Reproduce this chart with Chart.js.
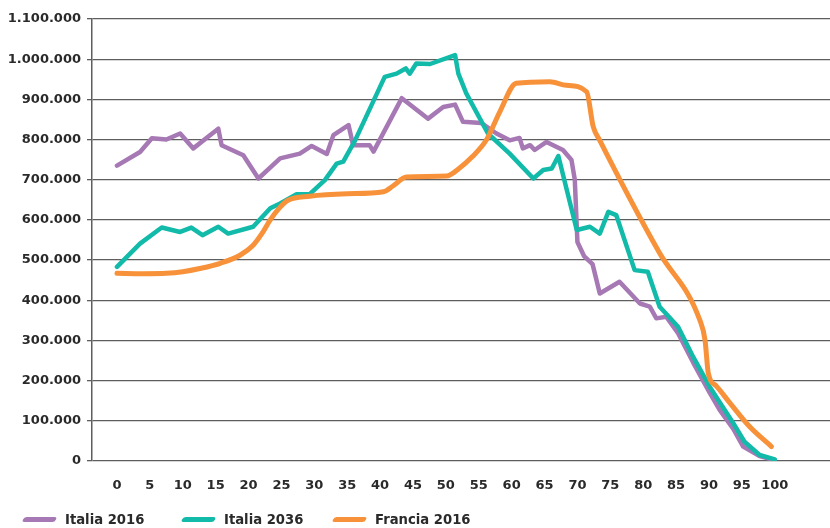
<!DOCTYPE html>
<html>
<head>
<meta charset="utf-8">
<script src="https://cdn.jsdelivr.net/npm/chart.js@4/dist/chart.umd.min.js"></script>
<style>
  html, body { margin: 0; padding: 0; background: #fff; }
  #wrap { position: relative; width: 830px; height: 528px; }
  #chart { position: absolute; left: 0; top: 0; }
  .item { position: absolute; top: 509px; height: 20px; display: flex; align-items: center;
          font: bold 13.2px "DejaVu Sans", sans-serif; color: #2a2a2a; }
  .swatch { width: 33px; height: 5px; border-radius: 3px; transform: skewX(-25deg); margin-right: 9px; }
</style>
</head>
<body>
<div id="wrap">
  <canvas id="chart" width="830" height="528"></canvas>
  <div class="item" style="left:23px"><span class="swatch" style="background:#a678b4"></span>Italia 2016</div>
  <div class="item" style="left:182px"><span class="swatch" style="background:#12baa9"></span>Italia 2036</div>
  <div class="item" style="left:333px"><span class="swatch" style="background:#f7923a"></span>Francia 2016</div>
</div>
<script>
// x tick labels (ages)
const ageTicks = [0, 5, 10, 15, 20, 25, 30, 35, 40, 45, 50, 55, 60, 65, 70, 75, 80, 85, 90, 95, 100];

// Italia 2016 - popolazione per età
const italia2016Ages = [0, 3.5, 5.3, 7.5, 9.6, 11.6, 15.4, 15.9, 19.2, 21.5, 24.8, 27.8, 29.6, 31.9, 32.9, 35.2, 35.9, 38.4, 39,
  43.3, 47.3, 49.6, 51.4, 52.6, 55.4, 57.7, 59.7, 61.2, 61.7, 62.8, 63.5, 65.3, 67.8, 69.1, 69.6, 70, 71, 72.3,
  73.4, 76.4, 79.5, 81, 82, 83.5, 85.3, 87.6, 90.1, 91.6, 93.7, 95.2, 97.7, 100];
const italia2016Values = [735000, 769000, 803000, 800000, 815000, 778000, 827000, 786000, 761000, 703000, 753000, 765000, 784000, 764000, 811000, 836000, 786000, 786000, 770000,
  903000, 852000, 881000, 887000, 844000, 841000, 815000, 798000, 804000, 778000, 786000, 774000, 794000, 774000, 749000, 700000, 545000, 510000, 490000,
  417000, 446000, 392000, 384000, 355000, 359000, 318000, 245000, 170000, 128000, 80000, 36000, 12000, 2000];

// Italia 2036
const italia2036Ages = [0, 3.5, 6.8, 9.6, 11.3, 13, 15.4, 16.9, 20.7, 23.3, 24.8, 27.3, 29.3, 31.6, 33.4, 34.4, 36.2, 40.7, 42.5,
  43.9, 44.5, 45.5, 47.6, 51.4, 51.9, 53.1, 56.4, 59.7, 63.3, 64.8, 66.1, 67.1, 69.9, 71.9, 73.4, 74.7, 75.9,
  78.7, 80.7, 82.5, 85.3, 87.6, 90.1, 93.7, 95.4, 97.7, 100];
const italia2036Values = [483000, 541000, 581000, 570000, 581000, 562000, 583000, 566000, 583000, 629000, 641000, 664000, 664000, 699000, 740000, 745000, 798000, 956000, 964000,
  977000, 964000, 989000, 988000, 1010000, 964000, 915000, 815000, 765000, 703000, 724000, 728000, 759000, 575000, 583000, 566000, 620000, 612000,
  475000, 471000, 384000, 334000, 259000, 185000, 94000, 48000, 15000, 4000];

// Francia 2016
const francia2016Ages = [0, 4, 7.5, 10, 12.6, 15.7, 18.7, 20.7, 22, 23.3, 24.7, 26, 29.3, 35, 40.5, 42, 44, 50.1, 52, 54,
  56.2, 58.2, 60.7, 65.8, 68.3, 71.4, 72.4, 73.4, 82.4, 88.6, 89.4, 89.9, 91.1, 93.2, 96.2, 99.5];
const francia2016Values = [467000, 466000, 467000, 471000, 479000, 492000, 512000, 537000, 565000, 600000, 630000, 649000, 659000, 665000, 670000, 685000, 707000, 709000, 728000, 757000,
  800000, 869000, 940000, 944000, 935000, 919000, 832000, 798000, 520000, 351000, 301000, 218000, 187000, 144000, 85000, 36000];

function pts(ages, values) {
  return ages.map((a, i) => ({ x: a, y: values[i] }));
}

function fmt(v) {
  return String(v).replace(/\B(?=(\d{3})+(?!\d))/g, '.');
}

const tickFont = { family: '"DejaVu Sans", sans-serif', size: 13, weight: 'bold' };

new Chart(document.getElementById('chart').getContext('2d'), {
  type: 'line',
  data: {
    datasets: [
      {
        label: 'Italia 2016',
        data: pts(italia2016Ages, italia2016Values),
        borderColor: '#a678b4',
        borderWidth: 4.5,
        order: 3
      },
      {
        label: 'Italia 2036',
        data: pts(italia2036Ages, italia2036Values),
        borderColor: '#12baa9',
        borderWidth: 4.5,
        order: 2
      },
      {
        label: 'Francia 2016',
        data: pts(francia2016Ages, francia2016Values),
        borderColor: '#f7923a',
        borderWidth: 5,
        cubicInterpolationMode: 'monotone',
        order: 1
      }
    ]
  },
  options: {
    responsive: false,
    animation: false,
    layout: { padding: { top: 19, right: 0, left: 0, bottom: 0 } },
    elements: {
      point: { radius: 0 },
      line: { tension: 0, borderJoinStyle: 'round', borderCapStyle: 'round' }
    },
    plugins: {
      legend: { display: false },
      tooltip: { enabled: false }
    },
    scales: {
      x: {
        type: 'linear',
        min: -3.8,
        max: 108.4,
        afterBuildTicks: axis => { axis.ticks = ageTicks.map(v => ({ value: v })); },
        afterFit: axis => { axis.height = 67; },
        grid: { display: false },
        border: { display: false },
        ticks: { font: tickFont, color: '#2a2a2a', padding: 9, maxRotation: 0, autoSkip: false }
      },
      y: {
        min: 0,
        max: 1100000,
        afterFit: axis => { axis.width = 92; },
        grid: { color: '#5e5e5e', lineWidth: 1.3, tickLength: 5 },
        border: { color: '#5e5e5e', width: 1.5 },
        ticks: { stepSize: 100000, font: tickFont, color: '#2a2a2a', padding: 6, callback: v => fmt(v) }
      }
    }
  }
});
</script>
</body>
</html>
